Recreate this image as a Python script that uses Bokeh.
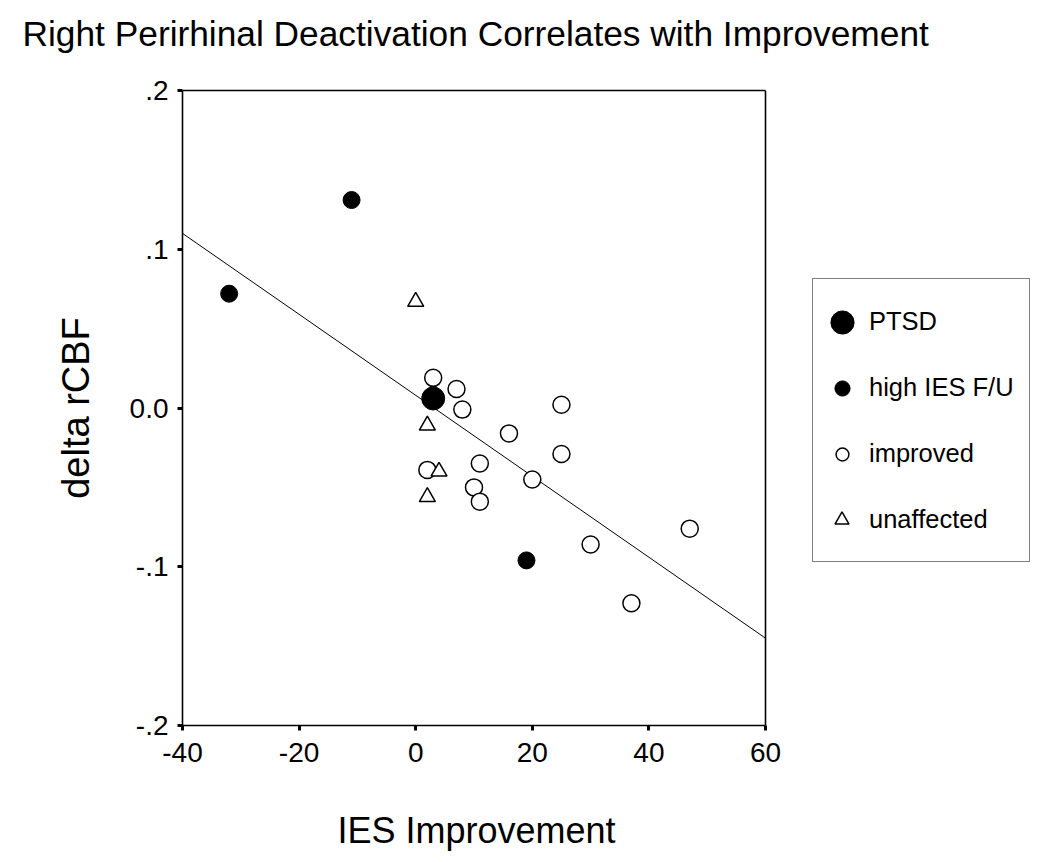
from bokeh.plotting import figure
from bokeh.models import (Range1d, FixedTicker, Legend, LegendItem, LinearAxis,
                          Span, Title)
from bokeh.embed import file_html
from bokeh.resources import INLINE

# ---------------- data ----------------
title_text = "Right Perirhinal Deactivation Correlates with Improvement"
x_label = "IES Improvement"
y_label = "delta rCBF"
x_ticks = [-40, -20, 0, 20, 40, 60]
x_tick_labels = ["-40", "-20", "0", "20", "40", "60"]
y_ticks = [-0.2, -0.1, 0.0, 0.1, 0.2]
y_tick_labels = ["-.2", "-.1", "0.0", ".1", ".2"]
series_names = ["PTSD", "high IES F/U", "improved", "unaffected"]

ptsd_x = [3]
ptsd_y = [0.006]

high_x = [-32, -11, 19]
high_y = [0.072, 0.131, -0.096]

improved_x = [3, 7, 8, 25, 16, 25, 2, 11, 20, 10, 11, 47, 30, 37]
improved_y = [0.019, 0.012, -0.001, 0.002, -0.016, -0.029, -0.039,
              -0.035, -0.045, -0.050, -0.059, -0.076, -0.086, -0.123]

unaffected_x = [0, 2, 4, 2]
unaffected_y = [0.067, -0.011, -0.040, -0.056]

fit_x = [-40, 60]
fit_y = [0.110, -0.145]

# ---------------- layout constants (pixels) ----------------
FONT = "Liberation Sans"
FRAME_LEFT = 182        # plot box left edge
BOX_RIGHT = 765         # plot box right edge (x = 60)
FRAME_RIGHT = 1032      # drawing area extends under the legend
FRAME_BOTTOM = 725
px_per_unit = (BOX_RIGHT - FRAME_LEFT) / (x_ticks[-1] - x_ticks[0])
x_end = x_ticks[0] + (FRAME_RIGHT - FRAME_LEFT) / px_per_unit

p = figure(width=1034, height=889,
           x_range=Range1d(x_ticks[0], x_end), y_range=Range1d(y_ticks[0], y_ticks[-1]),
           output_backend="svg", toolbar_location=None,
           min_border_left=FRAME_LEFT, min_border_right=2,
           min_border_top=118, min_border_bottom=136,
           margin=(-28, 0, 0, 0),
           background_fill_color="white", border_fill_color="white")

p.title.text = title_text
p.title.text_font = FONT
p.title.text_font_size = "35.3px"
p.title.text_font_style = "normal"
p.title.text_color = "black"
p.title.align = "left"
p.title.vertical_align = "bottom"
p.title.offset = 22 - FRAME_LEFT
p.title.standoff = 75

p.grid.visible = False
p.outline_line_color = None

xax = p.xaxis[0]
yax = p.yaxis[0]
xax.ticker = FixedTicker(ticks=x_ticks)
yax.ticker = FixedTicker(ticks=y_ticks)
xax.major_label_overrides = {v: s for v, s in zip(x_ticks, x_tick_labels)}
yax.major_label_overrides = {v: s for v, s in zip(y_ticks, y_tick_labels)}
xax.bounds = (x_ticks[0], x_ticks[-1])

for ax in (xax, yax):
    ax.axis_line_color = "black"
    ax.axis_line_width = 1.6
    ax.major_tick_in = 0
    ax.major_tick_out = 5
    ax.major_tick_line_width = 3
    ax.major_tick_line_color = "black"
    ax.minor_tick_line_color = None
    ax.major_label_text_font = FONT
    ax.major_label_text_font_size = "28px"
    ax.major_label_text_color = "black"
    ax.axis_label_text_font = FONT
    ax.axis_label_text_font_style = "normal"
    ax.axis_label_text_color = "black"

yax.axis_label = y_label
yax.axis_label_text_font_size = "38px"
yax.major_label_standoff = 9
yax.axis_label_standoff = 30

# x axis: label placed as a left-aligned title below (centred under the box)
xax.major_label_standoff = 12
xax.axis_label = " "
xax.axis_label_text_font_size = "1px"
xax.axis_label_standoff = 40
p.add_layout(Title(text=x_label, text_font=FONT, text_font_size="36px",
                   text_font_style="normal", text_color="black",
                   align="left", offset=337 - FRAME_LEFT,
                   vertical_align="top", standoff=2), "below")

# top and right edges of the plot box
top_axis = LinearAxis(ticker=FixedTicker(ticks=[]), bounds=(x_ticks[0], x_ticks[-1]),
                      axis_line_color="black", axis_line_width=1.6,
                      major_tick_out=0, major_tick_in=0, minor_tick_out=0,
                      minor_tick_in=0, major_label_standoff=0)
p.add_layout(top_axis, "above")
p.add_layout(Span(location=x_ticks[-1], dimension="height",
                  line_color="black", line_width=1.6))

# regression line
p.line(fit_x, fit_y, line_color="black", line_width=1)

# points
r_impr = p.scatter(improved_x, improved_y, marker="circle", size=17,
                   fill_color="white", line_color="black", line_width=1.5)
r_unaf = p.scatter(unaffected_x, unaffected_y, marker="triangle", size=16,
                   fill_color="white", line_color="black", line_width=1.5)
r_high = p.scatter(high_x, high_y, marker="circle", size=17,
                   fill_color="black", line_color="black")
r_ptsd = p.scatter(ptsd_x, ptsd_y, marker="circle", size=23,
                   fill_color="black", line_color="black")

# ---------------- legend ----------------
blank = p.scatter(x=[], y=[], fill_alpha=0, line_alpha=0)

LEG_LEFT, LEG_TOP, ROW_H, ROW_GAP, LEG_PAD = 812, 280, 54, 12, 15
leg_height = 2 * LEG_PAD + 4 * ROW_H + 3 * ROW_GAP

text_legend = Legend(
    items=[LegendItem(label=n, renderers=[blank]) for n in series_names],
    location=(LEG_LEFT - FRAME_LEFT, FRAME_BOTTOM - (LEG_TOP + leg_height)),
    margin=0, padding=LEG_PAD, spacing=ROW_GAP,
    glyph_width=30, glyph_height=ROW_H, label_height=ROW_H, label_width=143,
    label_standoff=11, label_text_font=FONT, label_text_font_size="25.5px",
    label_text_color="black",
    border_line_color="black", border_line_width=1.5,
    background_fill_color="white", background_fill_alpha=1.0,
)
p.add_layout(text_legend)

# legend swatches with individual sizes (glyph box = marker size / 0.4)
SWATCH_X = 842
swatches = [(r_ptsd, 58), (r_high, 38), (r_impr, 32), (r_unaf, 35)]
for i, (rend, g) in enumerate(swatches):
    cy = LEG_TOP + LEG_PAD + ROW_H // 2 + i * (ROW_H + ROW_GAP)
    leg = Legend(
        items=[LegendItem(label=" ", renderers=[rend])],
        location=(int(round(SWATCH_X - FRAME_LEFT - g / 2)),
                  int(round(FRAME_BOTTOM - cy - g / 2))),
        margin=0, padding=0, spacing=0,
        glyph_width=g, glyph_height=g, label_height=1, label_width=0,
        label_standoff=0, label_text_font_size="1px",
        border_line_alpha=0, background_fill_alpha=0,
    )
    p.add_layout(leg)

open("out.html", "w").write(file_html(p, INLINE))
